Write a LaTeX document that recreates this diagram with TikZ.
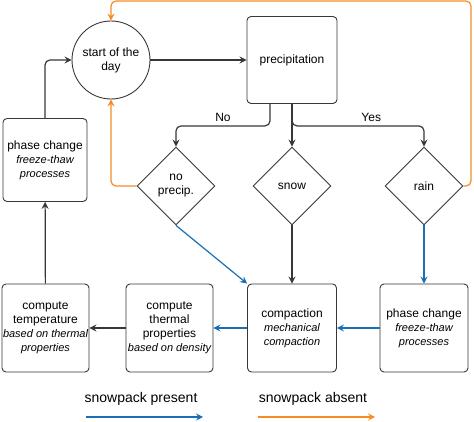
\documentclass[tikz,border=0pt]{standalone}
\usepackage{fontspec}
\setmainfont{Liberation Sans}
\usetikzlibrary{shapes.geometric,arrows.meta}
\definecolor{lineorange}{RGB}{245,140,35}
\definecolor{lineblue}{RGB}{25,110,180}
\definecolor{linegray}{RGB}{55,55,55}
\newcommand{\detail}[1]{{\fontsize{11}{13}\selectfont\itshape #1}}
\begin{document}
\begin{tikzpicture}[x=1pt, y=1pt,
    font=\fontsize{12}{14}\selectfont,
    box/.style={draw=linegray, line width=0.9pt, rounded corners=4pt, align=center,
        minimum width=\boxwidth pt, minimum height=\boxheight pt, inner sep=1pt},
    decision/.style={draw=linegray, line width=0.9pt, diamond, aspect=1, align=center,
        minimum width=78pt, minimum height=78pt, inner sep=0pt},
    arr/.style={-{Stealth[length=7pt, width=7pt, inset=2.5pt]}, line width=1.2pt,
        draw=linegray, rounded corners=5pt}]
    % Set box dimensions
    \pgfmathsetmacro{\boxwidth}{88}
    \pgfmathsetmacro{\boxheight}{88}

    \useasboundingbox (0,0) rectangle (474,422);

    % Draw top row: start of the day and precipitation
    \node[draw=linegray, line width=0.9pt, circle, minimum size=78pt, inner sep=0pt, align=center] at (111, 362) (start) {start of the\\day};
    \node[box, minimum width=90pt, minimum height=87pt] at (292, 362) (precip) {precipitation};

    % Draw decisions
    \node[decision] at (176, 236) (noprecip) {no\\precip.};
    \node[decision] at (292, 236) (snow) {snow};
    \node[decision] at (424, 236) (rain) {rain};

    % Draw process boxes
    \node[box, minimum width=84pt, minimum height=83pt] at (45, 262) (phaseleft) {phase change\\\detail{freeze-thaw}\\\detail{processes}};
    \node[box, minimum width=87pt] at (45.5, 94) (temperature) {compute\\temperature\\\detail{based on thermal}\\\detail{properties}};
    \node[box, minimum width=87pt] at (169.5, 94) (thermal) {compute\\thermal\\properties\\\detail{based on density}};
    \node[box, minimum width=89pt] at (292, 94) (compaction) {compaction\\\detail{mechanical}\\\detail{compaction}};
    \node[box] at (424, 94) (phaseright) {phase change\\\detail{freeze-thaw}\\\detail{processes}};

    % Draw connectors from precipitation
    \draw[arr] (start) -- (precip);
    \draw[arr] ([xshift=-22pt]precip.south) -- ++(0,-22) -| (noprecip.north) node[pos=0.25, above] {No};
    \draw[arr] (precip.south) -- (snow.north);
    \draw[arr] (precip.south) -- ++(0,-22) -| (rain.north) node[pos=0.3, above] {Yes};

    % Draw snowpack absent loops
    \coordinate (loopcorner) at (471, 421);
    \draw[arr, draw=lineorange] (noprecip.west) -| (start.south);
    \draw[arr, draw=lineorange] (rain.east) -| (loopcorner) -| (start.north);

    % Draw snowpack present chain
    \draw[arr, draw=lineblue] (noprecip.south) -- (compaction.north west);
    \draw[arr] (snow.south) -- (compaction.north);
    \draw[arr, draw=lineblue] (rain.south) -- (phaseright.north);
    \draw[arr, draw=lineblue] (phaseright) -- (compaction);
    \draw[arr, draw=lineblue] (compaction) -- (thermal);
    \draw[arr] (thermal) -- (temperature);
    \draw[arr] (temperature) -- (phaseleft);
    \draw[arr] (phaseleft.north) |- (start.west);

    % Draw legend
    \node[font=\fontsize{14}{16}\selectfont] at (141, 23) (present) {snowpack present};
    \node[font=\fontsize{14}{16}\selectfont] at (313, 23) (absent) {snowpack absent};
    \coordinate (presentstart) at (86, 5);
    \coordinate (presentend) at (203, 5);
    \coordinate (absentstart) at (258, 5);
    \coordinate (absentend) at (375, 5);
    \draw[arr, draw=lineblue] (presentstart) -- (presentend);
    \draw[arr, draw=lineorange] (absentstart) -- (absentend);
\end{tikzpicture}
\end{document}
